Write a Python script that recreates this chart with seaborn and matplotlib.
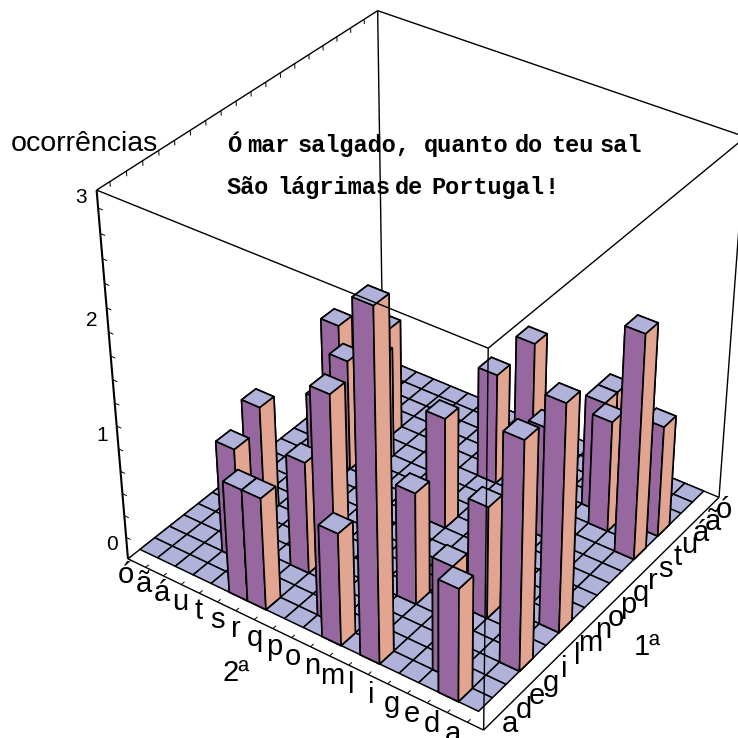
import numpy as np
import pandas as pd
import seaborn as sns
import matplotlib
matplotlib.use("Agg")
import matplotlib.pyplot as plt
from matplotlib.transforms import IdentityTransform
from mpl_toolkits.mplot3d.art3d import Poly3DCollection, Line3DCollection

# ---------- data ----------
letters = ["a", "d", "e", "g", "i", "l", "m", "n", "o", "p", "q", "r", "s", "t", "u", "á", "ã", "ó"]
first = ["m", "a", "s", "a", "l", "g", "a", "d", "q", "u", "a", "n", "t", "t", "e", "s", "ã", "l", "á", "g", "r", "i", "a", "d", "p", "o", "r", "t", "u"]
second = ["a", "r", "a", "l", "g", "a", "d", "o", "u", "a", "n", "t", "o", "e", "u", "ã", "o", "á", "g", "r", "i", "m", "s", "e", "o", "r", "t", "u", "g"]
count = [2, 1, 2, 3, 1, 2, 1, 2, 1, 1, 1, 1, 1, 1, 1, 1, 1, 1, 1, 1, 1, 1, 1, 1, 1, 1, 1, 1, 1]
z_ticks = [0, 1, 2, 3]
line1_words = ["Ó", "mar", "salgado,", "quanto", "do", "teu", "sal"]
line2_words = ["São", "lágrimas", "de", "Portugal", "!"]
line1_x = [227, 247, 298, 424, 515, 551, 600]
line2_x = [227, 277, 395, 431, 545]

df = pd.DataFrame({"first": first, "second": second, "count": count})
df["i"] = df["first"].map(letters.index)
df["j"] = df["second"].map(letters.index)
df = df.assign(depth=df.i + df.j).sort_values("depth", ascending=False)

# ---------- style ----------
sns.set_theme(style="white", font="Liberation Sans", rc={"text.color": "black"})
LAV, PUR, SAL = "#b0b2da", "#96689f", "#e1a592"
W = 738
N = len(letters)
MARG = 0.8
TOP = 3.14

# ---------- camera: solved from the box corners seen in the picture ----------
world = [(-MARG, -MARG, 0), (N, -MARG, 0), (-MARG, N, 0), (-MARG, -MARG, TOP), (-MARG, N, TOP),
         (N, -MARG, TOP), (N, N, TOP), (0, 0, 0), (N, 0, 0), (0, N, 0)]
image = [(482, 731), (717, 497), (127, 558), (487, 349), (97, 190),
         (746, 136), (378, 11), (482, 710), (705, 492), (140, 550)]
A = []
for (x, y, z), (u, v) in zip(world, image):
    v = W - v
    A.append([x, y, z, 1, 0, 0, 0, 0, -u * x, -u * y, -u * z, -u])
    A.append([0, 0, 0, 0, x, y, z, 1, -v * x, -v * y, -v * z, -v])
h = np.linalg.svd(np.array(A, float))[2][-1]
h = h / h[-1]
M = np.array([h[:4], h[4:8], [0.01, 0.01, -0.006, 0.0], h[8:12]])

fig = plt.figure(figsize=(W / 100, W / 100), dpi=100, facecolor="white")
ax = fig.add_axes([0, 0, 1, 1], projection="3d", computed_zorder=False)
ax.set_axis_off()
ax.transData = IdentityTransform()
ax.get_proj = lambda: M


def lines(segments, zorder, lw=1.0):
    ax.add_collection3d(Line3DCollection(segments, colors="black", linewidths=lw, zorder=zorder))


# back edges and ticks
lines([[(-MARG, N, TOP), (N, N, TOP)], [(N, -MARG, TOP), (N, N, TOP)], [(N, N, TOP), (N, N, 0)],
       [(-MARG, N, 0), (N, N, 0)], [(N, -MARG, 0), (N, N, 0)]], 1, 1.0)
lines([[(-MARG, N, 0), (-MARG, N, TOP)]], 1, 1.5)
tick_segs = []
for k in range(N + 1):
    tick_segs.append([(k, N, TOP), (k, N, TOP - 0.04)])
    tick_segs.append([(-MARG, k, 0), (-MARG + 0.22, k, 0)])
for zt in np.arange(0, 3.01, 0.2):
    tick_segs.append([(-MARG, N, zt), (-MARG, N - 0.25, zt)])
lines(tick_segs, 1, 0.7)

# floor
cells = [[(a, b, 0), (a + 1, b, 0), (a + 1, b + 1, 0), (a, b + 1, 0)] for a in range(N) for b in range(N)]
ax.add_collection3d(Poly3DCollection(cells, facecolor=LAV, edgecolor="black", linewidth=1.1, zorder=2))

# bars, back to front
for n, row in enumerate(df.itertuples()):
    col = ax.bar3d(row.i, row.j, 0, 1, 1, row.count,
                   color=[LAV, LAV, SAL, SAL, PUR, PUR], edgecolor="black", linewidth=1.2, shade=False)
    col.set_zorder(3 + n)

# front box edges
zf = 100
lines([[(-MARG, -MARG, 0), (N, -MARG, 0)], [(-MARG, -MARG, 0), (-MARG, N, 0)],
       [(-MARG, -MARG, 0), (-MARG, -MARG, TOP)], [(-MARG, -MARG, TOP), (N, -MARG, TOP)],
       [(-MARG, -MARG, TOP), (-MARG, N, TOP)], [(N, -MARG, 0), (N, -MARG, TOP)]], zf, 1.0)

# tick labels
for k, s in enumerate(letters):
    ax.text(-MARG - 0.6, k + 0.65 - (17 - k) * 0.02, -0.06, s, fontsize=21, rotation=8, ha="center", va="center", zorder=zf)
    ax.text(k + 0.12 + k * 0.012, -MARG - 0.65, 0, s, fontsize=21, rotation=-8, ha="center", va="center", zorder=zf)
for zt in z_ticks:
    ax.text(-MARG - 0.2, N + 0.7, (zt + 0.10 - 0.06 * zt) * TOP / 3, str(zt), fontsize=15, ha="center", va="center", zorder=zf)

ax.text(-3.9, 9.52, 0, "2ª", fontsize=21, ha="center", va="center", zorder=zf)
ax.text(7.4, -3.5, 0, "1ª", fontsize=21, ha="center", va="center", zorder=zf)
fig.text(84 / W, 1 - 144 / W, "ocorrências", fontsize=20.5, ha="center", va="center")
for words, xs, y in zip([line1_words, line2_words], [line1_x, line2_x], [152, 194]):
    for word, x in zip(words, xs):
        fig.text(x / W, 1 - y / W, word, fontsize=17, family="Liberation Mono", weight="bold", ha="left", va="baseline")

fig.savefig("out.png", dpi=100)
